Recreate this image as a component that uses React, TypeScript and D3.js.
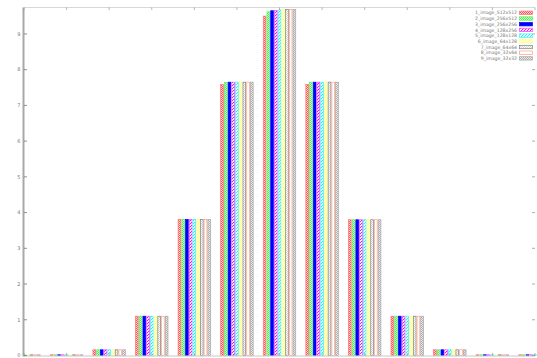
import React from "react";
import * as d3 from "d3";

const groups = [0, 1, 2, 3, 4, 5, 6, 7, 8, 9, 10, 11, 12];
const seriesNames = [
  "1_image_512x512",
  "2_image_256x512",
  "3_image_256x256",
  "4_image_128x256",
  "5_image_128x128",
  "6_image_64x128",
  "7_image_64x64",
  "8_image_32x64",
  "9_image_32x32",
];
const s1 = [0.02, 0.02, 0.16, 1.1, 3.81, 7.59, 9.5, 7.59, 3.8, 1.1, 0.16, 0.02, 0.02];
const s2 = [0.02, 0.02, 0.16, 1.1, 3.81, 7.64, 9.62, 7.65, 3.8, 1.1, 0.16, 0.02, 0.02];
const s3 = [0.02, 0.02, 0.16, 1.1, 3.81, 7.65, 9.65, 7.65, 3.8, 1.1, 0.16, 0.02, 0.02];
const s4 = [0.02, 0.02, 0.16, 1.1, 3.81, 7.65, 9.66, 7.65, 3.8, 1.1, 0.16, 0.02, 0.02];
const s5 = [0.02, 0.02, 0.16, 1.1, 3.81, 7.65, 9.67, 7.65, 3.8, 1.1, 0.16, 0.02, 0.02];
const s6 = [0.02, 0.02, 0.16, 1.1, 3.81, 7.65, 9.68, 7.65, 3.8, 1.1, 0.16, 0.02, 0.02];
const s7 = [0.02, 0.02, 0.16, 1.1, 3.81, 7.65, 9.68, 7.65, 3.8, 1.1, 0.16, 0.02, 0.02];
const s8 = [0.02, 0.02, 0.16, 1.1, 3.81, 7.65, 9.68, 7.65, 3.8, 1.1, 0.16, 0.02, 0.02];
const s9 = [0.02, 0.02, 0.16, 1.1, 3.81, 7.65, 9.68, 7.65, 3.8, 1.1, 0.16, 0.02, 0.02];
const seriesValues = [s1, s2, s3, s4, s5, s6, s7, s8, s9];
const yTicks = [0, 1, 2, 3, 4, 5, 6, 7, 8, 9];

type Style = { stroke: string; fill: string; pat?: { kind: string; c: string; bg: string } };
const styles: Style[] = [
  { stroke: "#ff7070", fill: "url(#p0)", pat: { kind: "check", c: "#ff5050", bg: "#ffd8d8" } },
  { stroke: "#60f060", fill: "url(#p1)", pat: { kind: "check", c: "#50f050", bg: "#d8ffd8" } },
  { stroke: "#0000ff", fill: "#0000ff" },
  { stroke: "#ff40ff", fill: "url(#p3)", pat: { kind: "diag", c: "#ff00ff", bg: "#ffffff" } },
  { stroke: "#40f0ff", fill: "url(#p4)", pat: { kind: "diag", c: "#00ffff", bg: "#ffffff" } },
  { stroke: "#ffff90", fill: "#ffffb8" },
  { stroke: "#808080", fill: "url(#p6)", pat: { kind: "check", c: "#d0d0d0", bg: "#ffffff" } },
  { stroke: "#ffa080", fill: "#ffffff" },
  { stroke: "#a8a8a8", fill: "url(#p8)", pat: { kind: "check", c: "#b0b0b0", bg: "#ececec" } },
];

const W = 537;
const H = 358;
const L = 24;
const R = 535;
const T = 7.5;
const B = 355.5;

export default function App() {
  const x = d3.scaleLinear().domain([0, 12]).range([L, R]);
  const y = d3.scaleLinear().domain([0, 9.74]).range([B, T]);
  const step = x(1) - x(0);
  const gw = step * 0.786;
  const inner = d3
    .scaleBand<string>()
    .domain(seriesNames)
    .range([-gw / 2, gw / 2])
    .padding(0);
  const bw = inner.bandwidth();

  return (
    <svg
      width={W}
      height={H}
      style={{ position: "absolute", left: 0, top: 0, display: "block", background: "#fff" }}
      fontFamily="DejaVu Sans, sans-serif"
    >
      <defs>
        <clipPath id="plot">
          <rect x={L} y={0} width={R - L + 2} height={B + 1} />
        </clipPath>
        {styles.map((s, i) =>
          s.pat ? (
            <pattern key={i} id={`p${i}`} width={s.pat.kind === "diag" ? 3 : 2} height={s.pat.kind === "diag" ? 3 : 2} patternUnits="userSpaceOnUse">
              <rect width={3} height={3} fill={s.pat.bg} />
              {s.pat.kind === "check" ? (
                <>
                  <rect x={0} y={0} width={1} height={1} fill={s.pat.c} />
                  <rect x={1} y={1} width={1} height={1} fill={s.pat.c} />
                </>
              ) : (
                <>
                  <rect x={0} y={2} width={1} height={1} fill={s.pat.c} />
                  <rect x={1} y={1} width={1} height={1} fill={s.pat.c} />
                  <rect x={2} y={0} width={1} height={1} fill={s.pat.c} />
                </>
              )}
            </pattern>
          ) : null
        )}
      </defs>

      {/* bars */}
      <g clipPath="url(#plot)">
        {groups.map((g, gi) =>
          seriesNames.map((name, si) => {
            const v = seriesValues[si][gi];
            const x0 = x(g) + (inner(name) as number);
            const y0 = y(v);
            const st = styles[si];
            return (
              <rect
                key={`${gi}-${si}`}
                x={x0 + 0.5}
                y={y0}
                width={Math.max(bw - 1, 0.5)}
                height={Math.max(B - y0, 0.8)}
                fill={st.fill}
                stroke={st.stroke}
                strokeWidth={0.7}
              />
            );
          })
        )}
      </g>

      {/* borders */}
      <line x1={L} x2={R} y1={T} y2={T} stroke="#d8d8d8" strokeWidth={1} />
      <line x1={L} x2={R} y1={B + 0.5} y2={B + 0.5} stroke="#c8c8c8" strokeWidth={1} />
      <line x1={L - 0.5} x2={L - 0.5} y1={T} y2={B + 1} stroke="#a8a8a8" strokeWidth={2} />

      {/* x ticks top and bottom */}
      {groups.map((g) => (
        <g key={`xt${g}`}>
          <line x1={x(g)} x2={x(g)} y1={T} y2={T + 2.5} stroke="#999" strokeWidth={0.7} />
          <line x1={x(g)} x2={x(g)} y1={B} y2={B - 2.5} stroke="#999" strokeWidth={0.7} />
        </g>
      ))}

      {/* y ticks and labels */}
      {yTicks.map((t) => (
        <g key={`yt${t}`}>
          <line x1={L} x2={L + 3} y1={y(t)} y2={y(t)} stroke="#777" strokeWidth={0.8} />
          <line x1={R} x2={R - 3} y1={y(t)} y2={y(t)} stroke="#999" strokeWidth={0.8} />
          <text x={20.5} y={y(t) + 1.8} fontSize={5} fill="#777" textAnchor="end">
            {t}
          </text>
        </g>
      ))}

      {/* legend */}
      {seriesNames.map((name, i) => {
        const yy = 12.7 + i * 5.7;
        const st = styles[i];
        return (
          <g key={`lg${i}`}>
            <text x={517} y={yy + 1.7} fontSize={4.6} fill="#777" textAnchor="end">
              {name}
            </text>
            <rect x={519.5} y={yy - 1.6} width={13} height={3.4} fill={st.fill} stroke={st.stroke} strokeWidth={0.7} />
          </g>
        );
      })}
    </svg>
  );
}
